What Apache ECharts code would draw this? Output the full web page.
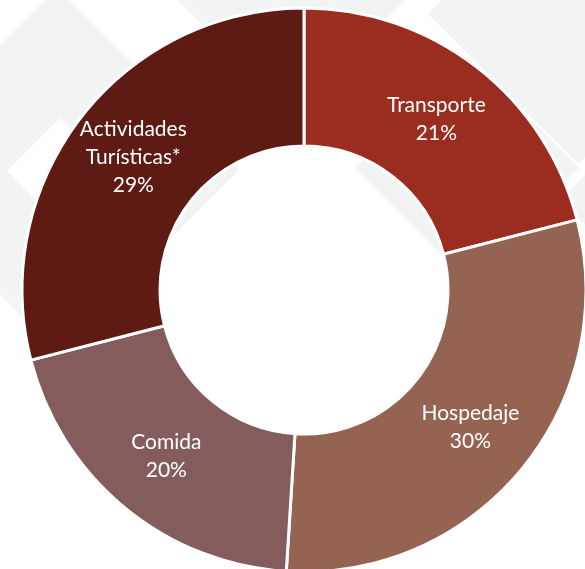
<!DOCTYPE html>
<html>
<head>
<meta charset="utf-8">
<script src="https://cdn.jsdelivr.net/npm/echarts@6/dist/echarts.min.js"></script>
<style>
  html, body { margin: 0; padding: 0; background: #fff; }
  #pie { width: 585px; height: 569px; }
</style>
</head>
<body>
<div id="pie"></div>
<script>
// datos del gráfico
const categorias = ['Transporte', 'Hospedaje', 'Comida', 'Actividades\nTurísticas*']
const valores = [21, 30, 20, 29]
const colores = ['#9B2D20', '#956352', '#845C5C', '#5E1B14']

// marca de agua de fondo (rombos gris claro)
const gris = '#F2F3F3'
function rombo (cx, cy, h, color) {
  return {
    type: 'polygon',
    silent: true,
    z: -10,
    shape: { points: [[cx, cy - h], [cx + h, cy], [cx, cy + h], [cx - h, cy]] },
    style: { fill: color }
  }
}

let chart = echarts.init(document.getElementById('pie'))
let option = {
  backgroundColor: '#fff',
  animation: false,
  graphic: [
    rombo(57, 170, 182, gris),
    rombo(60, 171, 53, '#fff'),
    rombo(291, 0, 114, gris),
    rombo(467, 168, 112, gris),
    rombo(578, 14, 150, gris),
    rombo(700, 200, 140, gris)
  ],
  series: [
    {
      type: 'pie',
      center: [304, 290],
      radius: [144, 282],
      startAngle: 90,
      clockwise: true,
      label: {
        show: true,
        position: 'inside',
        formatter: '{b}\n{d}%',
        color: '#fff',
        fontFamily: 'Lato',
        fontSize: 21,
        lineHeight: 28
      },
      labelLine: { show: false },
      itemStyle: {
        borderColor: '#fff',
        borderWidth: 3
      },
      emphasis: { disabled: true },
      data: categorias.map((c, i) => ({
        name: c,
        value: valores[i],
        itemStyle: { color: colores[i] }
      }))
    }
  ]
}
option && chart.setOption(option)
</script>
</body>
</html>
